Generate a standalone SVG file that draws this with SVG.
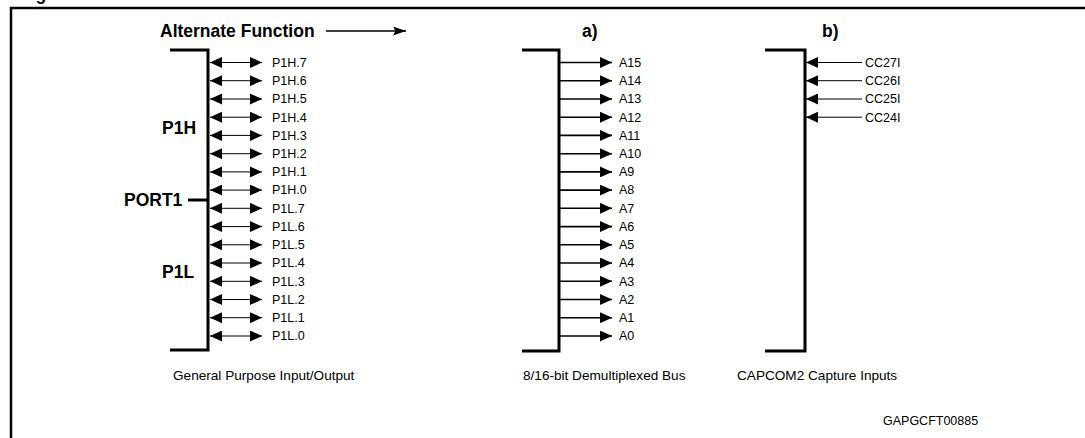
<svg xmlns="http://www.w3.org/2000/svg" width="1085" height="438" viewBox="0 0 1085 438">
<style>
  .bg{fill:#ffffff}
  .border{fill:none;stroke:#000;stroke-width:2.5}
  .bracket{fill:none;stroke:#000;stroke-width:3}
  .bold{font-family:"Liberation Sans",Arial,sans-serif;font-weight:bold;font-size:17.5px;fill:#000}
  .lbl{font-family:"Liberation Sans",Arial,sans-serif;font-size:12.5px;fill:#000}
  .cap{font-family:"Liberation Sans",Arial,sans-serif;font-size:13.6px;fill:#000}
  .thin{stroke:#000;stroke-width:1;fill:none}
  .med{stroke:#000;stroke-width:1.6;fill:none}
</style>
<defs>
  <marker id="ah" viewBox="0 0 12 11" refX="12" refY="5.5" markerWidth="12" markerHeight="11" markerUnits="userSpaceOnUse" orient="auto-start-reverse">
    <path d="M0,0 L12,5.5 L0,11 z" fill="#000"/>
  </marker>
  <marker id="ahs" viewBox="0 0 13 9" refX="13" refY="4.5" markerWidth="13" markerHeight="9" markerUnits="userSpaceOnUse" orient="auto">
    <path d="M0,0 L13,4.5 L0,9 L2.5,4.5 z" fill="#000"/>
  </marker>
</defs>
<rect class="bg" x="0" y="0" width="1085" height="438"/>
<text class="bold" x="20" y="0" font-size="18">Figure</text>
<path class="border" d="M11,445 V8 H1090"/>

<g id="header">
  <text class="bold" x="160" y="37" font-size="18">Alternate Function</text>
  <text class="bold" x="582" y="37">a)</text>
  <text class="bold" x="822" y="37">b)</text>
</g>

<g id="port1">
  <path class="bracket" d="M170,50 H208 V350 H170"/>
  <text class="bold" x="162" y="134">P1H</text>
  <text class="bold" x="124" y="206">PORT1</text>
  <line x1="188" y1="200" x2="208" y2="200" stroke="#000" stroke-width="3"/>
  <text class="bold" x="162" y="278">P1L</text>
  <g class="lbl">
    <text x="272" y="66.8">P1H.7</text>
    <text x="272" y="85">P1H.6</text>
    <text x="272" y="103.3">P1H.5</text>
    <text x="272" y="121.5">P1H.4</text>
    <text x="272" y="139.7">P1H.3</text>
    <text x="272" y="158">P1H.2</text>
    <text x="272" y="176.2">P1H.1</text>
    <text x="272" y="194.4">P1H.0</text>
    <text x="272" y="212.6">P1L.7</text>
    <text x="272" y="230.9">P1L.6</text>
    <text x="272" y="249.1">P1L.5</text>
    <text x="272" y="267.3">P1L.4</text>
    <text x="272" y="285.6">P1L.3</text>
    <text x="272" y="303.8">P1L.2</text>
    <text x="272" y="322">P1L.1</text>
    <text x="272" y="340.3">P1L.0</text>
  </g>
</g>

<g id="bus">
  <path class="bracket" d="M522,50 H559 V351 H522"/>
  <g class="lbl">
    <text x="619" y="66.8">A15</text>
    <text x="619" y="85">A14</text>
    <text x="619" y="103.3">A13</text>
    <text x="619" y="121.5">A12</text>
    <text x="619" y="139.7">A11</text>
    <text x="619" y="158">A10</text>
    <text x="619" y="176.2">A9</text>
    <text x="619" y="194.4">A8</text>
    <text x="619" y="212.6">A7</text>
    <text x="619" y="230.9">A6</text>
    <text x="619" y="249.1">A5</text>
    <text x="619" y="267.3">A4</text>
    <text x="619" y="285.6">A3</text>
    <text x="619" y="303.8">A2</text>
    <text x="619" y="322">A1</text>
    <text x="619" y="340.3">A0</text>
  </g>
</g>

<g id="capcom">
  <path class="bracket" d="M765,50 H805 V351 H765"/>
  <g class="lbl">
    <text x="865" y="66.8">CC27I</text>
    <text x="865" y="85">CC26I</text>
    <text x="865" y="103.3">CC25I</text>
    <text x="865" y="121.5">CC24I</text>
  </g>
</g>

<g id="captions">
  <text class="cap" x="173" y="380">General Purpose Input/Output</text>
  <text class="cap" x="523" y="380">8/16-bit Demultiplexed Bus</text>
  <text class="cap" x="737" y="380">CAPCOM2 Capture Inputs</text>
  <text class="lbl" x="883" y="425" font-size="11">GAPGCFT00885</text>
</g>

<g id="connectors">
  <line class="med" x1="326" y1="31" x2="406" y2="31" marker-end="url(#ahs)"/>
  <g class="thin">
    <line x1="210" y1="62.5" x2="262" y2="62.5" marker-start="url(#ah)" marker-end="url(#ah)"/>
    <line x1="210" y1="80.7" x2="262" y2="80.7" marker-start="url(#ah)" marker-end="url(#ah)"/>
    <line x1="210" y1="99" x2="262" y2="99" marker-start="url(#ah)" marker-end="url(#ah)"/>
    <line x1="210" y1="117.2" x2="262" y2="117.2" marker-start="url(#ah)" marker-end="url(#ah)"/>
    <line x1="210" y1="135.4" x2="262" y2="135.4" marker-start="url(#ah)" marker-end="url(#ah)"/>
    <line x1="210" y1="153.7" x2="262" y2="153.7" marker-start="url(#ah)" marker-end="url(#ah)"/>
    <line x1="210" y1="171.9" x2="262" y2="171.9" marker-start="url(#ah)" marker-end="url(#ah)"/>
    <line x1="210" y1="190.1" x2="262" y2="190.1" marker-start="url(#ah)" marker-end="url(#ah)"/>
    <line x1="210" y1="208.3" x2="262" y2="208.3" marker-start="url(#ah)" marker-end="url(#ah)"/>
    <line x1="210" y1="226.6" x2="262" y2="226.6" marker-start="url(#ah)" marker-end="url(#ah)"/>
    <line x1="210" y1="244.8" x2="262" y2="244.8" marker-start="url(#ah)" marker-end="url(#ah)"/>
    <line x1="210" y1="263" x2="262" y2="263" marker-start="url(#ah)" marker-end="url(#ah)"/>
    <line x1="210" y1="281.3" x2="262" y2="281.3" marker-start="url(#ah)" marker-end="url(#ah)"/>
    <line x1="210" y1="299.5" x2="262" y2="299.5" marker-start="url(#ah)" marker-end="url(#ah)"/>
    <line x1="210" y1="317.7" x2="262" y2="317.7" marker-start="url(#ah)" marker-end="url(#ah)"/>
    <line x1="210" y1="336" x2="262" y2="336" marker-start="url(#ah)" marker-end="url(#ah)"/>
  </g>
  <g class="med">
    <line x1="560" y1="62.5" x2="612" y2="62.5" marker-end="url(#ah)"/>
    <line x1="560" y1="80.7" x2="612" y2="80.7" marker-end="url(#ah)"/>
    <line x1="560" y1="99" x2="612" y2="99" marker-end="url(#ah)"/>
    <line x1="560" y1="117.2" x2="612" y2="117.2" marker-end="url(#ah)"/>
    <line x1="560" y1="135.4" x2="612" y2="135.4" marker-end="url(#ah)"/>
    <line x1="560" y1="153.7" x2="612" y2="153.7" marker-end="url(#ah)"/>
    <line x1="560" y1="171.9" x2="612" y2="171.9" marker-end="url(#ah)"/>
    <line x1="560" y1="190.1" x2="612" y2="190.1" marker-end="url(#ah)"/>
    <line x1="560" y1="208.3" x2="612" y2="208.3" marker-end="url(#ah)"/>
    <line x1="560" y1="226.6" x2="612" y2="226.6" marker-end="url(#ah)"/>
    <line x1="560" y1="244.8" x2="612" y2="244.8" marker-end="url(#ah)"/>
    <line x1="560" y1="263" x2="612" y2="263" marker-end="url(#ah)"/>
    <line x1="560" y1="281.3" x2="612" y2="281.3" marker-end="url(#ah)"/>
    <line x1="560" y1="299.5" x2="612" y2="299.5" marker-end="url(#ah)"/>
    <line x1="560" y1="317.7" x2="612" y2="317.7" marker-end="url(#ah)"/>
    <line x1="560" y1="336" x2="612" y2="336" marker-end="url(#ah)"/>
  </g>
  <g class="thin">
    <line x1="862" y1="62.5" x2="806" y2="62.5" marker-end="url(#ah)"/>
    <line x1="862" y1="80.7" x2="806" y2="80.7" marker-end="url(#ah)"/>
    <line x1="862" y1="99" x2="806" y2="99" marker-end="url(#ah)"/>
    <line x1="862" y1="117.2" x2="806" y2="117.2" marker-end="url(#ah)"/>
  </g>
</g>
</svg>
